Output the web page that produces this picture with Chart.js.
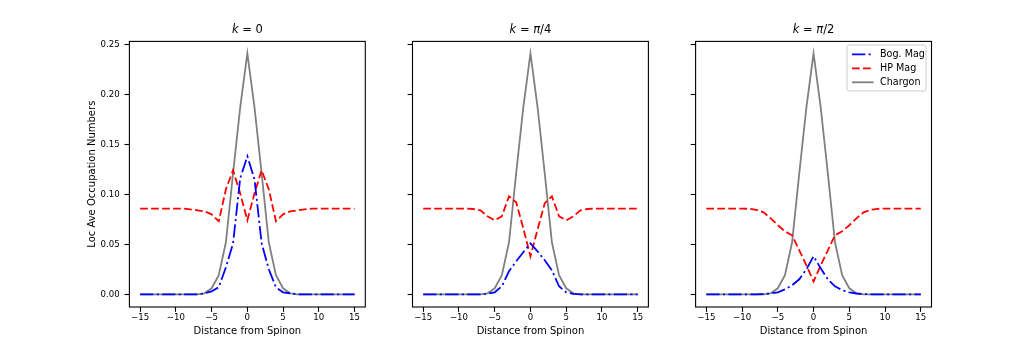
<!DOCTYPE html>
<html>
<head>
<meta charset="utf-8">
<script src="https://cdn.jsdelivr.net/npm/chart.js@4.4.1/dist/chart.umd.min.js"></script>
<style>
  body { margin: 0; background: #fff; width: 1035px; height: 345px; position: relative; overflow: hidden; }
  canvas { position: absolute; top: 0; }
</style>
</head>
<body>
<canvas id="panel0" style="left:0px" width="375" height="345"></canvas>
<canvas id="panel1" style="left:375px" width="283" height="345"></canvas>
<canvas id="panel2" style="left:658px" width="377" height="345"></canvas>
<script>
// data
const distance = [-15, -14, -13, -12, -11, -10, -9, -8, -7, -6, -5, -4, -3, -2, -1, 0,
                  1, 2, 3, 4, 5, 6, 7, 8, 9, 10, 11, 12, 13, 14, 15];

const panelTitles = [['k', ' = 0'], ['k', ' = ', 'π', '/4'], ['k', ' = ', 'π', '/2']];
const seriesNames = ['Bog. Mag', 'HP Mag', 'Chargon'];
const xTickValues = [-15, -10, -5, 0, 5, 10, 15];
const yTickValues = [0, 0.05, 0.10, 0.15, 0.20, 0.25];

// k = 0
const bogMagK0 = [0, 0, 0, 0, 0, 0, 0, 0, 0, 0.001, 0.003, 0.007, 0.027, 0.051, 0.116, 0.138,
                  0.115, 0.051, 0.025, 0.007, 0.002, 0.001, 0, 0, 0, 0, 0, 0, 0, 0, 0];
const hpMagK0 = [0.0857, 0.0857, 0.0857, 0.0857, 0.0857, 0.0857, 0.0857, 0.085, 0.084, 0.083, 0.080, 0.073, 0.105, 0.124, 0.101, 0.074,
                 0.101, 0.124, 0.105, 0.073, 0.080, 0.083, 0.084, 0.085, 0.0857, 0.0857, 0.0857, 0.0857, 0.0857, 0.0857, 0.0857];
// k = pi/4
const bogMagK1 = [0, 0, 0, 0, 0, 0, 0, 0, 0, 0.0005, 0.002, 0.008, 0.023, 0.033, 0.042, 0.051,
                  0.043, 0.034, 0.024, 0.008, 0.002, 0.0005, 0, 0, 0, 0, 0, 0, 0, 0, 0];
const hpMagK1 = [0.0857, 0.0857, 0.0857, 0.0857, 0.0857, 0.0857, 0.0857, 0.0853, 0.084, 0.078, 0.074, 0.078, 0.098, 0.092, 0.066, 0.038,
                 0.065, 0.091, 0.098, 0.078, 0.074, 0.078, 0.084, 0.0853, 0.0857, 0.0857, 0.0857, 0.0857, 0.0857, 0.0857, 0.0857];
// k = pi/2
const bogMagK2 = [0, 0, 0, 0, 0, 0, 0, 0, 0.0003, 0.0008, 0.002, 0.005, 0.009, 0.015, 0.025, 0.038,
                  0.026, 0.015, 0.008, 0.004, 0.002, 0.0008, 0.0003, 0, 0, 0, 0, 0, 0, 0, 0];
const hpMagK2 = [0.0857, 0.0857, 0.0857, 0.0857, 0.0857, 0.0857, 0.0855, 0.0845, 0.082, 0.076, 0.069, 0.063, 0.059, 0.044, 0.029, 0.0127,
                 0.029, 0.044, 0.059, 0.063, 0.069, 0.076, 0.082, 0.0845, 0.0855, 0.0857, 0.0857, 0.0857, 0.0857, 0.0857, 0.0857];
// chargon is the same for every k
const chargon = [0, 0, 0, 0, 0, 0, 0, 0, 0, 0.001, 0.006, 0.019, 0.052, 0.121, 0.187, 0.241,
                 0.187, 0.121, 0.052, 0.019, 0.006, 0.001, 0, 0, 0, 0, 0, 0, 0, 0, 0];

const bogMag = [bogMagK0, bogMagK1, bogMagK2];
const hpMag = [hpMagK0, hpMagK1, hpMagK2];

Chart.defaults.font.family = '"DejaVu Sans", sans-serif';
Chart.defaults.color = '#000';

const FONT = '"DejaVu Sans", sans-serif';
const minus = v => v < 0 ? '\u2212' + Math.abs(v) : String(v);

// full box around the axes like matplotlib spines
const frame = {
  id: 'frame',
  afterDatasetsDraw(chart) {
    const a = chart.chartArea, ctx = chart.ctx;
    ctx.save();
    ctx.strokeStyle = '#000';
    ctx.lineWidth = 1.1;
    ctx.strokeRect(a.left, a.top, a.right - a.left, a.bottom - a.top);
    ctx.restore();
  }
};

// mathtext-ish title: italic k and pi, the rest upright
const mathTitle = {
  id: 'mathTitle',
  afterDraw(chart, args, opts) {
    const parts = opts.parts, ctx = chart.ctx, a = chart.chartArea;
    ctx.save();
    ctx.fillStyle = '#000';
    ctx.textBaseline = 'middle';
    const fontOf = i => (i % 2 === 0 ? 'italic ' : '') + '11.5px ' + FONT;
    let total = 0;
    parts.forEach((p, i) => { ctx.font = fontOf(i); total += ctx.measureText(p).width; });
    let x = (a.left + a.right) / 2 - total / 2;
    parts.forEach((p, i) => {
      ctx.font = fontOf(i);
      ctx.fillText(p, x, 30);
      x += ctx.measureText(p).width;
    });
    ctx.restore();
  }
};

// matplotlib style legend inside the upper right corner
const innerLegend = {
  id: 'innerLegend',
  afterDraw(chart, args, opts) {
    if (!opts.show) return;
    const ctx = chart.ctx, a = chart.chartArea;
    const w = 79, h = 46;
    const x0 = a.right - 5.5 - w, y0 = a.top + 3.6;
    ctx.save();
    ctx.fillStyle = 'rgba(255,255,255,0.8)';
    ctx.strokeStyle = '#cccccc';
    ctx.lineWidth = 1;
    ctx.beginPath();
    ctx.roundRect(x0, y0, w, h, 2);
    ctx.fill();
    ctx.stroke();
    chart.data.datasets.forEach((ds, i) => {
      const y = y0 + 9.3 + 14 * i;
      ctx.strokeStyle = ds.borderColor;
      ctx.lineWidth = ds.borderWidth;
      ctx.setLineDash(ds.borderDash || []);
      ctx.beginPath();
      ctx.moveTo(x0 + 5, y);
      ctx.lineTo(x0 + 26.6, y);
      ctx.stroke();
      ctx.setLineDash([]);
      ctx.fillStyle = '#000';
      ctx.font = '9.6px ' + FONT;
      ctx.textBaseline = 'middle';
      ctx.fillText(ds.label, x0 + 33, y + 0.5);
    });
    ctx.restore();
  }
};

const yAxisWidths = [129.4, 37.5, 37.6];
const rightPads = [9.7, 9.6, 103.5];

for (let p = 0; p < 3; p++) {
  const pts = arr => distance.map((d, i) => ({ x: d, y: arr[i] }));
  new Chart(document.getElementById('panel' + p), {
    type: 'line',
    data: {
      datasets: [
        { label: seriesNames[0], data: pts(bogMag[p]), borderColor: '#0000ff', borderWidth: 1.8,
          borderDash: [13.3, 3.3, 2.1, 3.3] },
        { label: seriesNames[1], data: pts(hpMag[p]), borderColor: '#ff0000', borderWidth: 1.8,
          borderDash: [7.7, 3.3] },
        { label: seriesNames[2], data: pts(chargon), borderColor: '#808080', borderWidth: 1.8 }
      ]
    },
    options: {
      responsive: false,
      animation: false,
      events: [],
      elements: { point: { radius: 0 }, line: { tension: 0 } },
      layout: { padding: { top: 41.4, left: 0, right: rightPads[p], bottom: 0 } },
      plugins: {
        legend: { display: false },
        tooltip: { enabled: false },
        mathTitle: { parts: panelTitles[p] },
        innerLegend: { show: p === 2 }
      },
      scales: {
        x: {
          type: 'linear',
          min: -16.5,
          max: 16.5,
          afterBuildTicks: s => { s.ticks = xTickValues.map(v => ({ value: v })); },
          afterFit: s => { s.height = 38; },
          grid: { display: true, drawOnChartArea: false, drawTicks: true, tickLength: 4.9, color: '#000', tickWidth: 1.1 },
          border: { display: false },
          ticks: { font: { size: 8.6 }, padding: 0.5, maxRotation: 0, autoSkip: false, callback: v => minus(v) },
          title: { display: true, text: 'Distance from Spinon', font: { size: 10 }, padding: { top: 0, bottom: 8 } }
        },
        y: {
          type: 'linear',
          min: -0.0127,
          max: 0.2529,
          afterBuildTicks: s => { s.ticks = yTickValues.map(v => ({ value: v })); },
          afterFit: s => { s.width = yAxisWidths[p]; },
          grid: { display: true, drawOnChartArea: false, drawTicks: true, tickLength: 4.9, color: '#000', tickWidth: 1.1 },
          border: { display: false },
          ticks: { font: { size: 8.6 }, padding: 4.9, autoSkip: false,
                   callback: v => p === 0 ? v.toFixed(2) : '' },
          title: { display: p === 0, text: 'Loc Ave Occupation Numbers', font: { size: 10 }, padding: { top: 86, bottom: 0 } }
        }
      }
    },
    plugins: [frame, mathTitle, innerLegend]
  });
}
</script>
</body>
</html>
